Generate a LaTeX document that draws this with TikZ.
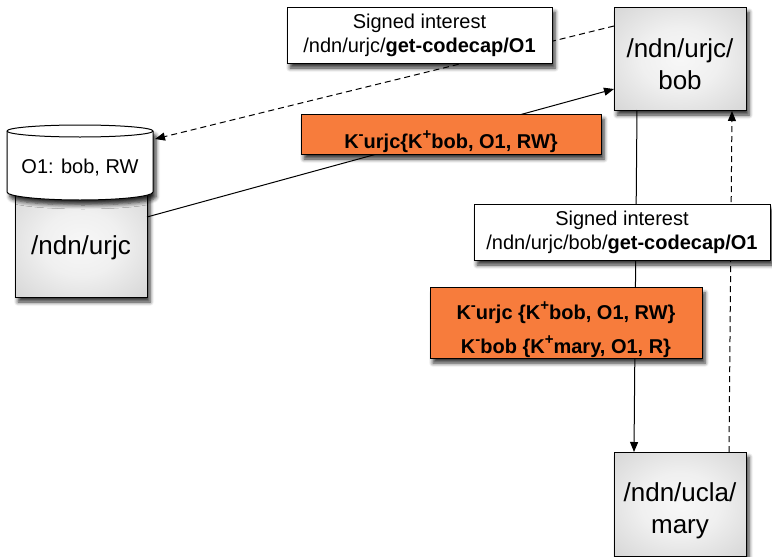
\documentclass[tikz,border=0pt]{standalone}
\usepackage{fontspec}
\setmainfont{Liberation Sans}
\usetikzlibrary{arrows.meta,shadows.blur,calc}
\definecolor{keyorange}{RGB}{247,124,60}
% raised key sign (public/private key marker)
\newcommand\keysup[1]{\raisebox{0.45em}{\fontsize{15}{15}\selectfont #1}}
% soft grey fill of the host boxes
\pgfdeclareradialshading{hostshade}{\pgfpoint{0bp}{0bp}}{%
  color(0bp)=(black!3); color(15bp)=(black!6); color(50bp)=(black!23);
  color(72bp)=(black!32); color(100bp)=(black!32)}

\begin{document}
\begin{tikzpicture}[x=1pt,y=1pt,
  every node/.style={inner sep=0pt, outer sep=0pt},
  shadowed/.style={blur shadow={shadow xshift=3pt, shadow yshift=-5pt, shadow blur steps=5, shadow blur radius=4pt, shadow opacity=80}},
  hostbox/.style={draw=black, line width=1pt, shading=hostshade, shadowed, align=center,
    font=\fontsize{26}{32}\selectfont, minimum width=132pt},
  msgbox/.style={draw=black, line width=0.9pt, fill=white, shadowed, align=center,
    font=\fontsize{20}{24}\selectfont},
  keybox/.style={draw=black, line width=0.9pt, fill=keyorange, shadowed, align=center,
    font=\fontsize{20}{34}\selectfont\bfseries},
  link/.style={line width=1pt, draw=black, -{Triangle[length=10pt,width=8pt]}},
  dashlink/.style={link, dash pattern=on 6pt off 4pt},
]
\useasboundingbox (0,0) rectangle (772,-557);

% hosts
\node[hostbox, minimum height=103pt] (bob) at (680,-58.5) {\rule{0pt}{31pt}/ndn/urjc/\\bob};
\node[hostbox, minimum height=104pt] (mary) at (680,-504) {\rule{0pt}{33pt}/ndn/ucla/\\mary};
\node[hostbox, minimum height=107pt, text height=22pt, text depth=0pt] (urjc) at (81,-243.5) {/ndn/urjc};

% access-control store on top of /ndn/urjc
\draw[line width=1pt, fill=white, shadowed]
  (7,-131) -- (7,-192) arc[start angle=180, end angle=360, x radius=73, y radius=8]
  -- (153,-131) arc[start angle=0, end angle=180, x radius=73, y radius=6] -- cycle;
\draw[line width=1pt] (7,-131) arc[start angle=180, end angle=360, x radius=73, y radius=6];
\node[font=\fontsize{20}{24}\selectfont] (acl) at (80,-168) {O1: bob, RW};

% connector end points
\coordinate (bobIn)   at ($(bob.north west)+(0,-82)$);
\coordinate (bobOut)  at ($(bob.north west)+(0,-19)$);
\coordinate (urjcOut) at ($(urjc.north east)+(0,-27)$);
\coordinate (aclIn)   at (155,-139);
\coordinate (bobDown) at ($(bob.south)+(-43,0)$);
\coordinate (maryIn)  at ($(mary.north)+(-46,0)$);
\coordinate (maryUp)  at ($(mary.north)+(49,0)$);
\coordinate (bobUp)   at ($(bob.south)+(52,-1)$);

% connectors
\draw[dashlink] (bobOut) -- (aclIn);
\draw[link] (urjcOut) -- (bobIn);
\draw[link] (bobDown) -- (maryIn);
\draw[dashlink] (maryUp) -- (bobUp);

% messages
\node[msgbox, minimum width=265pt, minimum height=56pt] (sig1) at (419.5,-35)
  {Signed interest\\/ndn/urjc/\textbf{get-codecap/O1}};
\node[msgbox, minimum width=296pt, minimum height=56pt] (sig2) at (622,-232)
  {Signed interest\\/ndn/urjc/bob/\textbf{get-codecap/O1}};
\node[keybox, minimum width=300pt, minimum height=40pt, text height=28pt, text depth=0pt] (cap1) at (451,-134)
  {K\keysup{-}urjc\{K\keysup{+}bob, O1, RW\}};
\node[keybox, minimum width=272pt, minimum height=68pt] (cap2) at (566,-323)
  {\rule{0pt}{32pt}K\keysup{-}urjc \{K\keysup{+}bob, O1, RW\}\\K\keysup{-}bob \{K\keysup{+}mary, O1, R\}};
\end{tikzpicture}
\end{document}
